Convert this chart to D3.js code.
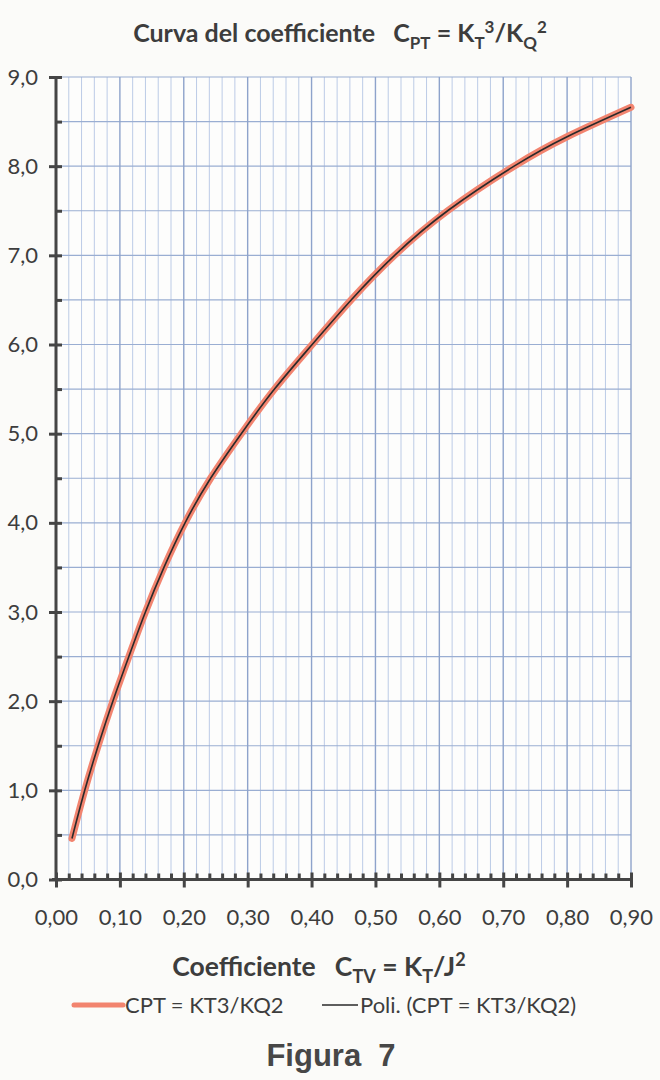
<!DOCTYPE html>
<html><head><meta charset="utf-8">
<script src="https://cdn.jsdelivr.net/npm/d3@7"></script>
<style>
html,body{margin:0;padding:0;background:#fbfbf9;}
svg{display:block;}
</style></head>
<body>
<script>
// ---- data ----
const ctvValues = [0.025, 0.045, 0.066, 0.089, 0.114, 0.140, 0.169, 0.202, 0.242, 0.290, 0.342, 0.401, 0.462, 0.530, 0.613, 0.717, 0.800, 0.900];
const cptValues = [0.46, 1.0, 1.5, 2.0, 2.5, 3.0, 3.5, 4.0, 4.5, 5.0, 5.5, 6.0, 6.5, 7.0, 7.5, 8.0, 8.33, 8.66];
const xTickValues = [0, 0.1, 0.2, 0.3, 0.4, 0.5, 0.6, 0.7, 0.8, 0.9];
const xTickLabels = ["0,00","0,10","0,20","0,30","0,40","0,50","0,60","0,70","0,80","0,90"];
const yTickValues = [0,1,2,3,4,5,6,7,8,9];
const yTickLabels = ["0,0","1,0","2,0","3,0","4,0","5,0","6,0","7,0","8,0","9,0"];
const seriesName = "CPT = KT3/KQ2";
const trendName = "Poli. (CPT = KT3/KQ2)";
const figureCaption = "Figura  7";

const W = 660, H = 1080;
const L = 56, R = 631, T = 77, B = 879.5;
const svg = d3.select("body").append("svg").attr("width", W).attr("height", H);
svg.append("rect").attr("width", W).attr("height", H).attr("fill", "#fbfbf9");

const x = d3.scaleLinear().domain([0, 0.9]).range([L, R]);
const y = d3.scaleLinear().domain([0, 9]).range([B, T]);

const font = "Lato, 'Open Sans', sans-serif";
const textCol = "#3d3d3d";

// plot background
svg.append("rect").attr("x", L).attr("y", T).attr("width", R - L).attr("height", B - T).attr("fill", "#fdfdfc");

// minor vertical grid (every 0.02)
const minorX = d3.range(0, 46).map(i => +(i * 0.02).toFixed(2)).filter(v => Math.round(v * 100) % 10 !== 0);
svg.append("g").selectAll("line").data(minorX).join("line")
  .attr("x1", d => x(d)).attr("x2", d => x(d)).attr("y1", T).attr("y2", B)
  .attr("stroke", "#bccbe6").attr("stroke-width", 1);
// horizontal grid (every 0.5)
const gridY = d3.range(1, 19).map(i => i * 0.5);
svg.append("g").selectAll("line").data(gridY).join("line")
  .attr("x1", L).attr("x2", R).attr("y1", d => y(d)).attr("y2", d => y(d))
  .attr("stroke", "#9aaed2").attr("stroke-width", 1.2);
// major vertical grid (every 0.1)
svg.append("g").selectAll("line").data(xTickValues.slice(1)).join("line")
  .attr("x1", d => x(d)).attr("x2", d => x(d)).attr("y1", T).attr("y2", B)
  .attr("stroke", "#8ea3cb").attr("stroke-width", 1.4);

// series
const pts = ctvValues.map((v, i) => [v, cptValues[i]]);
const line = d3.line().x(d => x(d[0])).y(d => y(d[1])).curve(d3.curveNatural);
svg.append("path").attr("d", line(pts)).attr("fill", "none")
  .attr("stroke", "#f2846f").attr("stroke-width", 7).attr("stroke-linecap", "round").attr("stroke-linejoin", "round");
svg.append("path").attr("d", line(pts)).attr("fill", "none")
  .attr("stroke", "#2a2a2a").attr("stroke-width", 1.6);

// axes
const axisCol = "#454545";
// y minor ticks (inside)
const yMinor = svg.append("g").attr("transform", `translate(${L},0)`)
  .call(d3.axisRight(y).tickValues(yTickValues.slice(0, 9).map(v => v + 0.5)).tickSize(6).tickFormat(""));
yMinor.select(".domain").remove();
yMinor.selectAll("line").attr("stroke", axisCol).attr("stroke-width", 3);
// y major
const yAxis = svg.append("g").attr("transform", `translate(${L},0)`)
  .call(d3.axisLeft(y).tickValues(yTickValues).tickSize(7).tickPadding(11)
    .tickFormat((d, i) => yTickLabels[i]));
yAxis.select(".domain").attr("stroke", axisCol).attr("stroke-width", 3).attr("d", `M0,${B}V${T}`);
yAxis.selectAll(".tick line").attr("x1", -7).attr("x2", 6).attr("stroke", axisCol).attr("stroke-width", 3);
yAxis.selectAll("text").attr("font-family", font).attr("font-size", 22).attr("fill", textCol);

// x minor ticks (inside)
const xMinorAxis = svg.append("g").attr("transform", `translate(0,${B})`)
  .call(d3.axisTop(x).tickValues(minorX).tickSize(6).tickFormat(""));
xMinorAxis.select(".domain").remove();
xMinorAxis.selectAll("line").attr("stroke", axisCol).attr("stroke-width", 3);
// x major
const xAxis = svg.append("g").attr("transform", `translate(0,${B})`)
  .call(d3.axisBottom(x).tickValues(xTickValues).tickSize(8).tickPadding(22)
    .tickFormat((d, i) => xTickLabels[i]));
xAxis.select(".domain").attr("stroke", axisCol).attr("stroke-width", 3).attr("d", `M${L - 4},0H${R}`);
xAxis.selectAll(".tick line").attr("y1", -7).attr("y2", 8).attr("stroke", axisCol).attr("stroke-width", 3);
xAxis.selectAll("text").attr("font-family", font).attr("font-size", 22).attr("fill", textCol);

// rich text helper
function rich(g, parts, size) {
  const t = g.append("text").attr("font-family", font).attr("font-weight", "bold")
    .attr("font-size", size).attr("fill", textCol).attr("text-anchor", "middle");
  let off = 0;
  parts.forEach(p => {
    const target = p.m === "sub" ? size * 0.28 : p.m === "sup" ? -size * 0.38 : 0;
    t.append("tspan").attr("dy", target - off)
      .attr("font-size", p.m === "n" ? size : size * 0.68)
      .attr("xml:space", "preserve").style("white-space", "pre").text(p.t);
    off = target;
  });
  return t;
}

// title
rich(svg.append("g").attr("transform", "translate(340,42)"), [
  {t: "Curva del coefficiente   C", m: "n"}, {t: "PT", m: "sub"}, {t: " = K", m: "n"},
  {t: "T", m: "sub"}, {t: "3", m: "sup"}, {t: "/K", m: "n"}, {t: "Q", m: "sub"}, {t: "2", m: "sup"}
], 25);

// x axis title
rich(svg.append("g").attr("transform", "translate(319,976)"), [
  {t: "Coefficiente   C", m: "n"}, {t: "TV", m: "sub"}, {t: " = K", m: "n"},
  {t: "T", m: "sub"}, {t: "/J", m: "n"}, {t: "2", m: "sup"}
], 26.5);

// legend
const lg = svg.append("g");
lg.append("line").attr("x1", 74).attr("x2", 123).attr("y1", 1005).attr("y2", 1005)
  .attr("stroke", "#f2846f").attr("stroke-width", 5).attr("stroke-linecap", "round");
lg.append("text").attr("x", 125).attr("y", 1013).attr("font-family", font).attr("font-size", 22)
  .attr("fill", textCol).text(seriesName);
lg.append("line").attr("x1", 322).attr("x2", 358).attr("y1", 1005).attr("y2", 1005)
  .attr("stroke", "#2a2a2a").attr("stroke-width", 1.5);
lg.append("text").attr("x", 360).attr("y", 1013).attr("font-family", font).attr("font-size", 22)
  .attr("fill", textCol).text(trendName);

// caption
svg.append("text").attr("x", 331).attr("y", 1066).attr("text-anchor", "middle")
  .attr("font-family", "'Liberation Sans', Arial, sans-serif").attr("font-weight", "bold")
  .attr("font-size", 31).attr("fill", "#474747").attr("xml:space", "preserve").style("white-space", "pre")
  .text(figureCaption);
</script>
</body></html>
